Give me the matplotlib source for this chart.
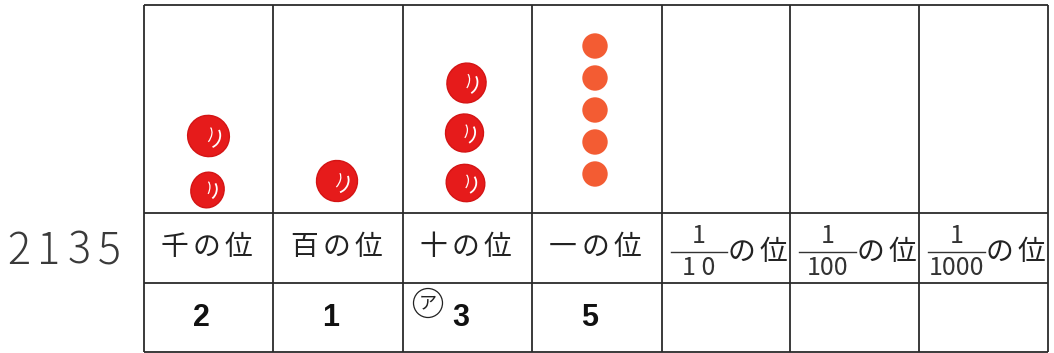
import matplotlib
matplotlib.use('Agg')
import matplotlib.pyplot as plt
from matplotlib.patches import Ellipse, Circle, Arc

# --- data -----------------------------------------------------------------
NUMBER = "2135"
PLACE_LABELS = ["千の位", "百の位", "十の位", "一の位"]
FRACTION_DENOMS = ["1 0", "100", "1000"]
DIGITS = [2, 1, 3, 5, None, None, None]
MARKED_COLUMN = 2          # the column tagged with the circled ア
MARK_TEXT = "ア"

# --- layout (pixel coordinates, y grows downward) -------------------------
W, H = 1054, 353
COL_EDGES = [144, 273, 403, 532, 662, 790, 919, 1048]
ROW_EDGES = [5, 213, 283, 352]
LINE_COLOR = '#2b2b2b'
RED = '#e61b1b'
ORANGE = '#f35c33'
JP = ['Noto Sans CJK JP', 'DejaVu Sans']
CHAR_PITCH = 32

# hand-drawn blob wobble per column: (bottom y, step, [(dx, w, h, angle), ...])
BLOBS = {
    0: (190, 54, [(-1, 33, 36, 20), (0, 42, 41, 30)]),
    1: (181, 50, [(-1, 41, 41, 35)]),
    2: (183, 50, [(-2, 39, 37, 25), (-3, 38, 38, 25), (-1, 39, 40, 25)]),
}
DOT_BOTTOM, DOT_STEP, DOT_R = 174, 32, 12.7

fig = plt.figure(figsize=(W / 100, H / 100), dpi=100)
ax = fig.add_axes([0, 0, 1, 1])
ax.set_xlim(0, W)
ax.set_ylim(H, 0)
ax.axis('off')


def spaced(x0, y, s, **kw):
    """Draw a string one character at a time with a fixed pitch (centred chars)."""
    for k, ch in enumerate(s):
        ax.text(x0 + k * CHAR_PITCH, y, ch, ha='center', va='center', **kw)


# table grid
for y in ROW_EDGES:
    ax.plot([COL_EDGES[0], COL_EDGES[-1]], [y, y], color=LINE_COLOR, lw=1.3,
            solid_capstyle='butt')
for x in COL_EDGES:
    ax.plot([x, x], [ROW_EDGES[0], ROW_EDGES[-1]], color=LINE_COLOR, lw=1.3,
            solid_capstyle='butt')

centers = [(a + b) / 2 for a, b in zip(COL_EDGES[:-1], COL_EDGES[1:])]
hdr_y = (ROW_EDGES[1] + ROW_EDGES[2]) / 2
dig_y = (ROW_EDGES[2] + ROW_EDGES[3]) / 2

# number on the left
for i, ch in enumerate(NUMBER):
    ax.text(19 + i * 30, hdr_y + 3, ch, fontsize=31, family=JP,
            fontweight='light', ha='center', va='center', color='#3a3a3a')

# header row: whole-number places
for i, lab in enumerate(PLACE_LABELS):
    spaced(centers[i] - 2 - CHAR_PITCH, hdr_y - 1, lab, fontsize=20, family=JP,
           color='#222222')

# header row: fraction places
for j, den in enumerate(FRACTION_DENOMS):
    c = len(PLACE_LABELS) + j
    left, right = COL_EDGES[c] + 9, COL_EDGES[c + 1] - 63
    mid = (left + right) / 2
    line_y = hdr_y + 4
    ax.plot([left, right], [line_y, line_y], color='#333333', lw=1.0)
    ax.text(mid, line_y - 9, "1", fontsize=18, family=JP,
            ha='center', va='baseline', color='#333333')
    ax.text(mid, line_y + 23, den, fontsize=18, family=JP,
            ha='center', va='baseline', color='#333333')
    spaced(COL_EDGES[c + 1] - 49, line_y, "の位", fontsize=20, family=JP,
           color='#222222')

# digit row
for i, d in enumerate(DIGITS):
    if d is None:
        continue
    ax.text(centers[i] - 7, dig_y, str(d), fontsize=22, fontweight='bold',
            family='Liberation Sans', ha='center', va='center', color='#111111')

# circled ア
cx, cy = COL_EDGES[MARKED_COLUMN] + 25, ROW_EDGES[2] + 20
ax.add_patch(Circle((cx, cy), 14.5, fill=False, ec='#222222', lw=0.9))
ax.text(cx, cy, MARK_TEXT, fontsize=13, family=JP, ha='center',
        va='center', color='#222222')

# counters: red blobs for the hand-drawn columns, orange dots for ones
for i, d in enumerate(DIGITS):
    if not d:
        continue
    if i in BLOBS:
        base, step, shapes = BLOBS[i]
        for k in range(d):
            dx, w, h, ang = shapes[k]
            x, y = centers[i] + dx, base - k * step
            ax.add_patch(Ellipse((x, y), w, h, angle=ang, fc=RED, ec='#d41414',
                                 lw=1.0))
            ax.add_patch(Arc((x, y), w * 0.55, h * 0.6, angle=ang,
                             theta1=-60, theta2=40, color='white', lw=1.3))
            ax.add_patch(Arc((x - w * 0.12, y), w * 0.35, h * 0.55, angle=ang,
                             theta1=-80, theta2=20, color='white', lw=0.9))
    else:
        for k in range(d):
            ax.add_patch(Circle((centers[i] - 2, DOT_BOTTOM - k * DOT_STEP), DOT_R,
                                fc=ORANGE, ec='none'))

fig.savefig('out.png', dpi=100)
